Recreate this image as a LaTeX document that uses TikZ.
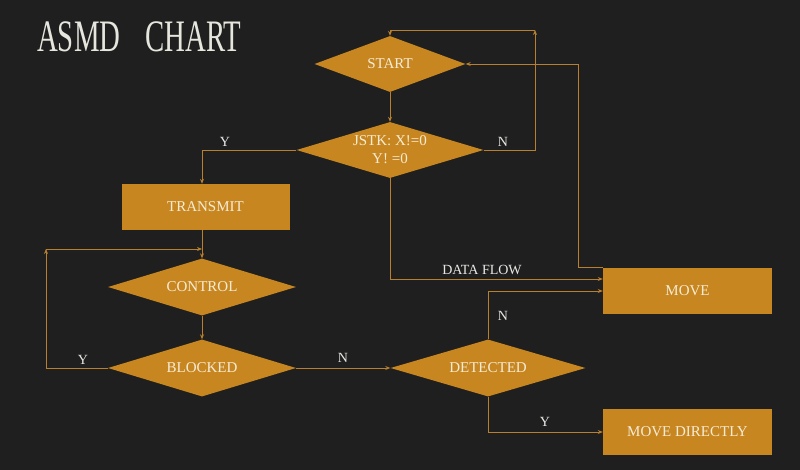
\documentclass[tikz,border=0pt]{standalone}
\usepackage{fontspec}
\setmainfont{Liberation Serif}
\usetikzlibrary{shapes.geometric,arrows.meta}
\definecolor{bgc}{RGB}{31,31,31}
\definecolor{boxc}{RGB}{199,134,32}
\definecolor{linec}{RGB}{184,128,46}
\definecolor{txtc}{RGB}{246,236,214}
\definecolor{lblc}{RGB}{232,232,228}
\definecolor{titlec}{RGB}{230,230,222}
\begin{document}
\begin{tikzpicture}[x=1pt,y=-1pt,
  dia/.style={diamond, fill=boxc, inner sep=0pt, text=txtc, font=\fontsize{15}{18}\selectfont, align=center},
  box/.style={rectangle, fill=boxc, inner sep=0pt, text=txtc, font=\fontsize{15}{18}\selectfont, minimum width=168pt, minimum height=46pt},
  conn/.style={draw=linec, line width=0.9pt, -{Stealth[length=5pt,width=4pt]}},
  lbl/.style={text=lblc, font=\fontsize{14}{17}\selectfont, inner sep=1pt}]
\fill[bgc] (0,0) rectangle (800,470);
\useasboundingbox (0,0) rectangle (800,470);
\node[anchor=base west, text=titlec, inner sep=0pt] (title) at (37,52) {\scalebox{0.64}[1]{\fontsize{45}{50}\selectfont ASMD\hspace{39pt}CHART}};
% nodes
\node[dia, minimum width=151pt, minimum height=56pt, aspect=2.7] (start) at (390,64) {START};
\node[dia, minimum width=187pt, minimum height=56pt, aspect=3.34] (jstk) at (390,150) {JSTK: X!=0\\Y! =0};
\node[box] (transmit) at (205.5,207) {TRANSMIT};
\node[dia, minimum width=188pt, minimum height=57pt, aspect=3.3] (control) at (202,287) {CONTROL};
\node[dia, minimum width=188pt, minimum height=57pt, aspect=3.3] (blocked) at (202,368) {BLOCKED};
\node[dia, minimum width=195pt, minimum height=57pt, aspect=3.4] (detected) at (488,368) {DETECTED};
\node[box, minimum width=169pt] (move) at (687.5,291) {MOVE};
\node[box, minimum width=169pt] (movedir) at (687.5,432) {MOVE DIRECTLY};
% coordinates
\coordinate (c1) at (535,30);
\coordinate (c2) at (578,64);
\coordinate (lp) at (46,249);
% connectors
\draw[conn] (start.south) -- (jstk.north);
\draw[conn] (jstk.east) -- (jstk.east -| c1) -- (c1);
\draw[conn] (c1) -- (c1 -| start.north) -- (start.north);
\draw[conn] (move.north west) -| (c2) -- (start.east);
\draw[conn] (jstk.south) |- ([yshift=12pt]move.west);
\draw[conn] (jstk.west) -| (control.north |- transmit.north);
\draw[conn] (control.north |- transmit.south) -- (control.north);
\draw[conn] (blocked.west) -| (lp);
\draw[conn] (lp) -- (lp -| control.north);
\draw[conn] (control.south) -- (blocked.north);
\draw[conn] (blocked.east) -- (detected.west);
\draw[conn] (detected.north) |- (move.west);
\draw[conn] (detected.south) |- (movedir.west);
% labels
\node[lbl] (n1) at (503,142) {N};
\node[lbl] (y1) at (225,142) {Y};
\node[lbl] (df) at (482,270) {DATA FLOW};
\node[lbl] (y2) at (83,360) {Y};
\node[lbl] (n2) at (343,358) {N};
\node[lbl] (n3) at (503,316) {N};
\node[lbl] (y3) at (545,422) {Y};
\end{tikzpicture}
\end{document}
